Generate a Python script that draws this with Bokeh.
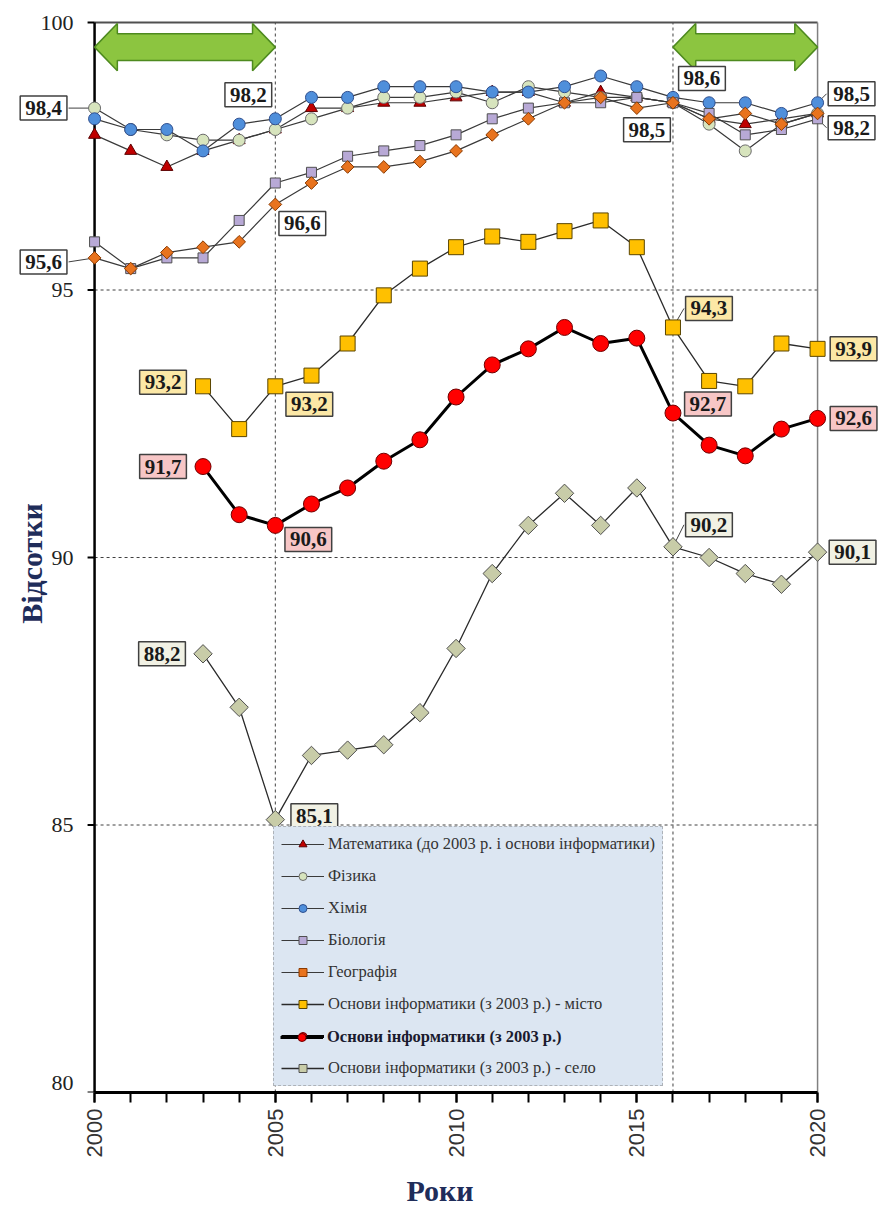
from math import pi

from bokeh.plotting import figure
from bokeh.models import (ColumnDataSource, FixedTicker, Legend, LegendItem,
                          Label, Range1d)
from bokeh.embed import file_html
from bokeh.resources import INLINE

# ---------------------------------------------------------------- data
years = list(range(2000, 2021))
years_info = list(range(2003, 2021))

mathematics = [97.9, 97.6, 97.3, 97.6, 97.8, 98.0, 98.4, 98.4, 98.5, 98.5, 98.6,
               98.7, 98.7, 98.5, 98.7, 98.6, 98.5, 98.2, 98.1, 98.2, 98.3]
physics = [98.4, 98.0, 97.9, 97.8, 97.8, 98.0, 98.2, 98.4, 98.6, 98.6, 98.7,
           98.5, 98.8, 98.7, 98.6, 98.6, 98.5, 98.1, 97.6, 98.1, 98.3]
chemistry = [98.2, 98.0, 98.0, 97.6, 98.1, 98.2, 98.6, 98.6, 98.8, 98.8, 98.8,
             98.7, 98.7, 98.8, 99.0, 98.8, 98.6, 98.5, 98.5, 98.3, 98.5]
biology = [95.9, 95.4, 95.6, 95.6, 96.3, 97.0, 97.2, 97.5, 97.6, 97.7, 97.9,
           98.2, 98.4, 98.5, 98.5, 98.6, 98.5, 98.3, 97.9, 98.0, 98.2]
geography = [95.6, 95.4, 95.7, 95.8, 95.9, 96.6, 97.0, 97.3, 97.3, 97.4, 97.6,
             97.9, 98.2, 98.5, 98.6, 98.4, 98.5, 98.2, 98.3, 98.1, 98.3]
informatics_city = [93.2, 92.4, 93.2, 93.4, 94.0, 94.9, 95.4, 95.8, 96.0,
                    95.9, 96.1, 96.3, 95.8, 94.3, 93.3, 93.2, 94.0, 93.9]
informatics = [91.7, 90.8, 90.6, 91.0, 91.3, 91.8, 92.2, 93.0, 93.6,
               93.9, 94.3, 94.0, 94.1, 92.7, 92.1, 91.9, 92.4, 92.6]
informatics_village = [88.2, 87.2, 85.1, 86.3, 86.4, 86.5, 87.1, 88.3, 89.7,
                       90.6, 91.2, 90.6, 91.3, 90.2, 90.0, 89.7, 89.5, 90.1]

series_names = [
    "Математика (до 2003 р. і основи інформатики)",
    "Фізика",
    "Хімія",
    "Біологія",
    "Географія",
    "Основи інформатики (з 2003 р.) - місто",
    "Основи інформатики (з 2003 р.)",
    "Основи інформатики (з 2003 р.) - село",
]
series_x = [years, years, years, years, years, years_info, years_info, years_info]
series_y = [mathematics, physics, chemistry, biology, geography,
            informatics_city, informatics, informatics_village]

x_label_ticks = [2000, 2005, 2010, 2015, 2020]
y_label_ticks = [80, 85, 90, 95, 100]
grid_values = [85, 90, 95]
marked_years = [2005, 2016]
arrow_periods = [(2000, 2005), (2016, 2020)]

# (series index, year) pairs that carry a value callout
callout_points = [
    (1, 2000), (4, 2000), (2, 2005), (4, 2005),
    (5, 2003), (5, 2005), (6, 2003), (6, 2005), (7, 2003), (7, 2005),
    (2, 2016), (4, 2016), (5, 2016), (6, 2016), (7, 2016),
    (2, 2020), (3, 2020), (5, 2020), (6, 2020), (7, 2020),
]

# ---------------------------------------------------------------- styles
styles = [
    dict(marker="triangle", size=12, fill="#C00000", edge="#5a0000", lc="#3a3a3a", lw=1.2, angle=0),
    dict(marker="circle", size=12, fill="#D7E4BD", edge="#6b6b6b", lc="#3a3a3a", lw=1.2, angle=0),
    dict(marker="circle", size=12, fill="#4F8FDB", edge="#2F4F8F", lc="#3a3a3a", lw=1.2, angle=0),
    dict(marker="square", size=10, fill="#B8A9D6", edge="#505050", lc="#3a3a3a", lw=1.2, angle=0),
    dict(marker="square", size=9, fill="#E8731E", edge="#8a3a00", lc="#3a3a3a", lw=1.2, angle=pi / 4),
    dict(marker="square", size=15, fill="#FFC000", edge="#5a4500", lc="#2a2a2a", lw=1.3, angle=0),
    dict(marker="circle", size=16, fill="#FF0000", edge="#700000", lc="#000000", lw=3, angle=0),
    dict(marker="square", size=13, fill="#C8CCA8", edge="#505050", lc="#2a2a2a", lw=1.3, angle=pi / 4),
]
callout_fill = ["#FFFFFF", "#FFFFFF", "#FFFFFF", "#FFFFFF", "#FFFFFF",
                "#FCE8A6", "#F7C6C6", "#F1F1E4"]
# screen offsets (dx right, dy down) of each callout box from its point
callout_offsets = [
    (-51, 0), (-51, 4), (-27, -24), (27, 19),
    (-40, -4), (34, 18), (-40, 0), (33, 14), (-41, 0), (39, -4),
    (29, -19), (-26, 27), (36, -19), (35, -9), (36, -22),
    (34, -9), (34, 9), (36, 0), (36, 0), (35, 0),
]
# callouts joined to their point by a thin leader line
callout_leader = [
    True, True, False, False,
    False, False, False, False, False, False,
    False, False, True, False, True,
    True, True, False, False, False,
]
BOX_HALF_W = 25

SERIF = "Liberation Serif"
SANS = "Liberation Sans"
NAVY = "#1F2D5A"

# page geometry: the data frame spans the whole width and the top of the page,
# the time axis sits in the bottom panel
W, H = 879, 1215
BOTTOM_PANEL = 123
FRAME_H = H - BOTTOM_PANEL
PX_PER_YEAR = 36.15
PX_PER_UNIT = 53.5
LEFT_PX, TOP_PX = 94.07, 22.0          # where 2000 / 100 % fall
X0 = years[0] - LEFT_PX / PX_PER_YEAR
X1 = X0 + W / PX_PER_YEAR
Y0 = y_label_ticks[0]
Y1 = y_label_ticks[-1] + TOP_PX / PX_PER_UNIT


def px_to_x(px):
    return X0 + px / W * (X1 - X0)


def px_to_y(py):
    return Y0 + (FRAME_H - py) / FRAME_H * (Y1 - Y0)


p = figure(
    width=W, height=H,
    x_range=Range1d(X0, X1), y_range=Range1d(Y0, Y1),
    y_axis_location=None,
    min_border_left=0, min_border_right=0,
    min_border_top=0, min_border_bottom=BOTTOM_PANEL,
    output_backend="svg", toolbar_location=None,
    background_fill_color="white", border_fill_color="white",
)
p.outline_line_color = None
p.grid.visible = False

x_lo, x_hi = years[0], years[-1]
y_lo, y_hi = y_label_ticks[0], y_label_ticks[-1]

# dashed reference lines
p.segment(x0=[x_lo] * len(grid_values), x1=[x_hi] * len(grid_values),
          y0=grid_values, y1=grid_values,
          line_color="#404040", line_width=1, line_dash="3 3")
p.segment(x0=marked_years, x1=marked_years,
          y0=[y_lo] * len(marked_years), y1=[y_hi] * len(marked_years),
          line_color="#404040", line_width=1, line_dash="3 3")
# frame: top and right edges
p.segment(x0=[x_lo], x1=[x_hi], y0=[y_hi], y1=[y_hi], line_color="#505050", line_width=2)
p.segment(x0=[x_hi], x1=[x_hi], y0=[y_lo], y1=[y_hi], line_color="#808080", line_width=1.5)

# value axis: spine, ticks and labels at 2000
tick_len = 7 / PX_PER_YEAR
p.segment(x0=[x_lo], x1=[x_lo], y0=[y_lo], y1=[y_hi], line_color="black", line_width=2.5)
p.segment(x0=[x_lo - tick_len] * len(y_label_ticks), x1=[x_lo] * len(y_label_ticks),
          y0=y_label_ticks, y1=y_label_ticks, line_color="black", line_width=2)
ytick_src = ColumnDataSource(dict(
    x=[x_lo] * len(y_label_ticks), y=y_label_ticks,
    text=[str(t) for t in y_label_ticks],
    dy=[-10 if t == y_lo else 0 for t in y_label_ticks],   # keep the lowest one above the frame edge
))
p.text(x="x", y="y", text="text", y_offset="dy", x_offset=-21, source=ytick_src,
       text_align="right", text_baseline="middle",
       text_font={"value": SERIF}, text_font_size="22px", text_color="#222222")

# double-headed arrows marking the periods
head = 0.63
y_top, y_bot, y_mid = 99.98, 99.10, 99.54
s_top, s_bot = 99.79, 99.29
ax, ay = [], []
for a, b in arrow_periods:
    ax.append([a, a + head, a + head, b - head, b - head, b, b - head, b - head, a + head, a + head])
    ay.append([y_mid, y_top, s_top, s_top, y_top, y_mid, y_bot, s_bot, s_bot, y_bot])
p.patches(ax, ay, fill_color="#8CC540", line_color="#4E8A1F", line_width=1.5)

# leader lines from points to their callout boxes
lx0, ly0, lx1, ly1 = [], [], [], []
for (si, yr), (dx, dy), lead in zip(callout_points, callout_offsets, callout_leader):
    if not lead:
        continue
    v = series_y[si][series_x[si].index(yr)]
    ex = dx - BOX_HALF_W if dx > 0 else dx + BOX_HALF_W
    lx0.append(yr)
    ly0.append(v)
    lx1.append(yr + ex / PX_PER_YEAR)
    ly1.append(v - dy / PX_PER_UNIT)
p.segment(x0=lx0, y0=ly0, x1=lx1, y1=ly1, line_color="#404040", line_width=1)

# series
items = []
info_renderers = None
for i, name in enumerate(series_names):
    st = styles[i]
    ln = p.line(series_x[i], series_y[i], line_color=st["lc"], line_width=st["lw"])
    sc = p.scatter(series_x[i], series_y[i], marker=st["marker"], size=st["size"],
                   angle=st["angle"], fill_color=st["fill"], line_color=st["edge"],
                   line_width=1)
    if i == 6:
        info_renderers = [ln, sc]
    items.append(LegendItem(label=name if i != 6 else " ", renderers=[ln, sc]))

# value callouts
for (si, yr), (dx, dy) in zip(callout_points, callout_offsets):
    v = series_y[si][series_x[si].index(yr)]
    p.add_layout(Label(
        x=yr, y=v, x_offset=dx, y_offset=-dy,
        text=f"{v:.1f}".replace(".", ","),
        text_align="center", text_baseline="middle",
        text_font=SERIF, text_font_style="bold", text_font_size="21px",
        text_color="#1a1a1a",
        background_fill_color=callout_fill[si], background_fill_alpha=1,
        border_line_color="#404040", border_line_width=1.5, padding=5,
    ))

# legend; the headline series gets a bold entry laid over its row
LEG_LEFT, LEG_BOTTOM, LEG_PAD = 273, 6, 7
ROW_H, ROW_GAP = 20, 12
legend_style = dict(
    orientation="vertical",
    label_text_font=SERIF, label_text_font_size="16.5px", label_text_color="#333333",
    glyph_width=43, glyph_height=ROW_H, label_height=ROW_H, spacing=ROW_GAP,
    margin=0, label_standoff=4,
)
legend = Legend(
    items=items, location=(LEG_LEFT, LEG_BOTTOM), padding=LEG_PAD,
    background_fill_color="#DCE6F2", background_fill_alpha=1,
    border_line_color="#7f7f7f", border_line_dash="3 2", border_line_width=1.5,
    **legend_style,
)
p.add_layout(legend)
rows_below = len(series_names) - 1 - 6
legend_bold = Legend(
    items=[LegendItem(label=series_names[6], renderers=info_renderers)],
    location=(LEG_LEFT + LEG_PAD, LEG_BOTTOM + LEG_PAD + rows_below * (ROW_H + ROW_GAP)),
    padding=0, background_fill_alpha=0, border_line_color=None,
    **legend_style,
)
legend_bold.label_text_font_style = "bold"
legend_bold.label_text_color = "#1a1a2e"
p.add_layout(legend_bold)

# time axis
xa = p.xaxis[0]
xa.bounds = (x_lo, x_hi)
xa.ticker = FixedTicker(ticks=x_label_ticks, minor_ticks=years)
xa.axis_line_color = "black"
xa.axis_line_width = 3
xa.major_tick_line_color = "black"
xa.major_tick_line_width = 2
xa.minor_tick_line_color = "black"
xa.minor_tick_line_width = 2
xa.major_tick_in = 0
xa.major_tick_out = 10
xa.minor_tick_in = 0
xa.minor_tick_out = 10
xa.major_label_orientation = pi / 2
xa.major_label_standoff = 6
xa.major_label_text_font = SANS
xa.major_label_text_font_size = "22px"
xa.major_label_text_color = "#333333"
xa.axis_label = "Роки"
xa.axis_label_text_font = SERIF
xa.axis_label_text_font_style = "bold"
xa.axis_label_text_font_size = "30px"
xa.axis_label_text_color = NAVY
xa.axis_label_standoff = 14

p.add_layout(Label(
    x=px_to_x(31), y=px_to_y(563), text="Відсотки", angle=pi / 2,
    text_align="center", text_baseline="middle",
    text_font=SERIF, text_font_style="bold", text_font_size="30px",
    text_color=NAVY,
))

open("out.html", "w").write(file_html(p, INLINE))
